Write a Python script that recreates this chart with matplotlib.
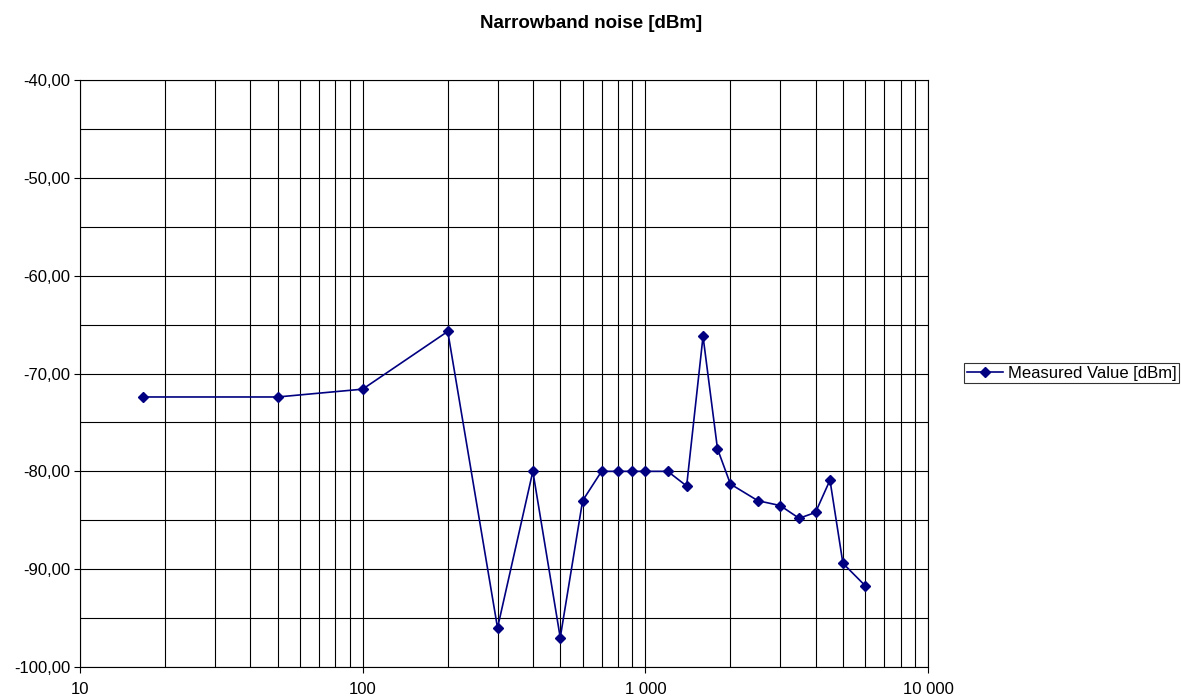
import numpy as np
import matplotlib
matplotlib.use("Agg")
import matplotlib.pyplot as plt
from matplotlib.ticker import FixedLocator, FuncFormatter, NullFormatter

plt.rcParams['font.family'] = ['Liberation Sans', 'DejaVu Sans']

freq = [16.7, 50, 100, 200, 300, 400, 500, 600, 700, 800, 900, 1000,
        1200, 1400, 1600, 1800, 2000, 2500, 3000, 3500, 4000, 4500, 5000, 6000]
level = [-72.4, -72.4, -71.6, -65.7, -96.0, -80.0, -97.0, -83.0, -80.0, -80.0, -80.0, -80.0,
         -80.0, -81.5, -66.2, -77.7, -81.3, -83.0, -83.5, -84.8, -84.2, -80.9, -89.4, -91.7]
series_name = "Measured Value [dBm]"
title = "Narrowband noise [dBm]"

fig = plt.figure(figsize=(11.81, 6.98), dpi=100)
ax = fig.add_axes([80 / 1181, 1 - 667 / 698, (928 - 80) / 1181, (667 - 80) / 698])

ax.plot(freq, level, color='#000080', lw=1.2, marker='D', ms=5,
        markerfacecolor='#000080', markeredgecolor='#000080', label=series_name, zorder=3)

ax.set_xscale('log')
ax.set_xlim(10, 10000)
ax.set_ylim(-100, -40)

def xfmt(v, pos):
    return f"{int(round(v)):,}".replace(",", " ")

ax.xaxis.set_major_locator(FixedLocator([10, 100, 1000, 10000]))
ax.xaxis.set_major_formatter(FuncFormatter(xfmt))
minors = [m * 10 ** d for d in range(1, 4) for m in range(2, 10)]
ax.xaxis.set_minor_locator(FixedLocator(minors))
ax.xaxis.set_minor_formatter(NullFormatter())

ax.yaxis.set_major_locator(FixedLocator(np.arange(-100, -39, 10)))
ax.yaxis.set_minor_locator(FixedLocator(np.arange(-95, -40, 10)))
ax.yaxis.set_major_formatter(FuncFormatter(lambda v, p: f"{v:.2f}".replace(".", ",")))

ax.grid(True, which='both', color='black', lw=0.8)
ax.tick_params(which='major', direction='out', length=4, width=0.8, labelsize=12, color='black')
ax.tick_params(which='minor', length=0)
ax.tick_params(axis='x', pad=7)
ax.tick_params(axis='y', pad=3)
for s in ax.spines.values():
    s.set_linewidth(0.8)
    s.set_color('black')

fig.text(591 / 1181, 1 - 23 / 698, title, ha='center', va='center', fontsize=13.5, fontweight='bold')

leg = fig.legend(loc='center left', bbox_to_anchor=(964 / 1181, 1 - 373 / 698), fontsize=12,
                 frameon=True, fancybox=False, edgecolor='black', borderpad=0.15,
                 handlelength=2.2, handletextpad=0.3, borderaxespad=0)
leg.get_frame().set_linewidth(0.8)

fig.savefig("out.png", dpi=100)
